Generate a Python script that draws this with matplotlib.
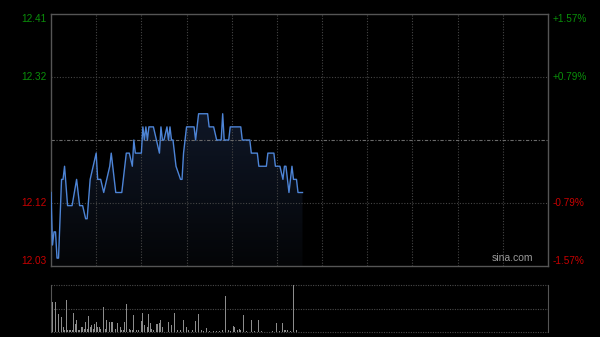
import numpy as np
import matplotlib
matplotlib.use('Agg')
import matplotlib.pyplot as plt
from matplotlib.colors import LinearSegmentedColormap

# price line, vertices (minute from open, price)
minutes = [0, 1, 2, 3, 4, 5, 7, 8, 9, 11, 14, 17, 19, 21, 23, 24, 26, 28, 30, 31,
           33, 35, 37, 39, 40, 43, 47, 50, 52, 54, 55, 56, 60, 61, 62, 63, 64, 65,
           68, 72, 73, 74, 75, 77, 78, 79, 80, 81, 83, 86, 87, 88, 90, 95, 96, 98,
           104, 105, 108, 110, 113, 114, 115, 118, 119, 126, 127, 132, 133, 137,
           138, 143, 144, 148, 149, 152, 154, 155, 156, 158, 160, 161, 163, 164, 167]
prices = [12.14, 12.06, 12.08, 12.08, 12.04, 12.04, 12.16, 12.16, 12.18, 12.12,
          12.12, 12.16, 12.12, 12.12, 12.10, 12.10, 12.16, 12.18, 12.20, 12.16,
          12.16, 12.14, 12.16, 12.18, 12.20, 12.14, 12.14, 12.20, 12.20, 12.18,
          12.22, 12.20, 12.20, 12.24, 12.22, 12.24, 12.22, 12.24, 12.24, 12.20,
          12.24, 12.22, 12.22, 12.24, 12.22, 12.24, 12.22, 12.22, 12.18, 12.16,
          12.16, 12.20, 12.24, 12.24, 12.22, 12.26, 12.26, 12.24, 12.24, 12.22,
          12.22, 12.26, 12.22, 12.22, 12.24, 12.24, 12.22, 12.22, 12.20, 12.20,
          12.18, 12.18, 12.20, 12.20, 12.18, 12.18, 12.16, 12.18, 12.18, 12.14,
          12.18, 12.16, 12.16, 12.14, 12.14]

# volume bars (minute, % of panel height)
vol_min = [0, 1, 2, 3, 4, 5, 6, 7, 8, 9, 10, 11, 12, 13, 14, 15, 16, 17, 18, 19,
           20, 21, 22, 23, 24, 25, 26, 27, 28, 29, 30, 31, 32, 33, 35, 36, 37, 39,
           40, 41, 43, 44, 46, 47, 48, 49, 50, 52, 53, 54, 55, 57, 58, 60, 61, 62,
           64, 65, 66, 67, 68, 70, 71, 72, 73, 74, 75, 77, 78, 79, 80, 81, 82, 83,
           84, 86, 87, 88, 89, 90, 91, 94, 96, 98, 100, 101, 103, 105, 108, 110,
           112, 114, 116, 118, 119, 121, 122, 124, 125, 126, 128, 130, 133, 135,
           138, 140, 143, 145, 147, 150, 152, 154, 155, 156, 157, 158, 159, 161,
           162, 163, 164]
vol_val = [89, 64, 61, 64, 57, 39, 32, 32, 11, 4, 69, 4, 4, 4, 4, 41, 18, 25, 4, 5,
           11, 11, 7, 21, 7, 34, 11, 14, 7, 18, 21, 11, 11, 7, 54, 7, 26, 21,
           21, 21, 7, 19, 11, 4, 4, 21, 59, 7, 4, 4, 36, 4, 4, 23, 41, 14,
           11, 39, 19, 7, 4, 18, 18, 19, 26, 11, 5, 4, 21, 82, 14, 7, 41, 7,
           4, 4, 14, 25, 19, 11, 4, 4, 24, 39, 4, 2, 9, 2, 2, 2,
           2, 4, 76, 4, 2, 12, 11, 4, 7, 4, 36, 2, 25, 2,
           25, 2, 1, 1, 2, 19, 2, 19, 4, 5, 4, 7, 2, 100,
           4, 4, 25]

prev_close = 12.22
half_range = 0.192
left_labels = ['12.41', '12.32', '12.12', '12.03']
right_labels = ['+1.57%', '+0.79%', '-0.79%', '-1.57%']
total_minutes = 330

green = '#0a8f0a'
red = '#c80000'
border = '#555555'
gridc = '#454545'

fig = plt.figure(figsize=(6, 3.37), dpi=100, facecolor='black')
ax = fig.add_axes([51/600, 1-266/337, 497/600, 252/337], facecolor='black')
axv = fig.add_axes([51/600, 1-332/337, 497/600, 47/337], facecolor='black')

ylo = prev_close - half_range
yhi = prev_close + half_range
levels = [yhi, prev_close + half_range/2, prev_close - half_range/2, ylo]

# gradient fill under the line
poly = ax.fill_between(minutes, prices, ylo, color='none', lw=0)
grad = np.linspace(0, 1, 256).reshape(-1, 1)
cmap = LinearSegmentedColormap.from_list('f', ['#040507', '#0f1727'])
im = ax.imshow(grad, extent=[0, total_minutes, ylo, max(prices)], aspect='auto',
               cmap=cmap, origin='lower', zorder=1)
im.set_clip_path(poly.get_paths()[0], transform=ax.transData)

ax.plot(minutes, prices, color='#4d84d6', lw=1.0, zorder=3)

# grid
for k in range(1, 11):
    ax.axvline(k*30, color=gridc, lw=0.8, ls=(0, (1, 1.5)), zorder=2)
for lv in levels[1:3]:
    ax.axhline(lv, color=gridc, lw=0.8, ls=(0, (1, 1.5)), zorder=2)
ax.axhline(prev_close, color='#6a6a6a', lw=0.8, ls=(0, (3, 1.5, 1, 1.5)), zorder=2)

ax.set_xlim(0, total_minutes)
ax.set_ylim(ylo, yhi)
ax.set_xticks([])
ax.set_yticks([])
for s in ax.spines.values():
    s.set_color(border)
    s.set_linewidth(1.0)

# axis labels
font = dict(family='Liberation Sans', fontsize=7.2)
vas = ['top', 'center', 'center', 'bottom']
for lv, lt, rt, va in zip(levels, left_labels, right_labels, vas):
    c = green if lv > prev_close else red
    ax.text(-4/497*total_minutes, lv, lt, color=c, ha='right', va=va, **font)
    ax.text(total_minutes + 5/497*total_minutes, lv, rt, color=c, ha='left', va=va, **font)

ax.text(0.97, 0.012, 'sina.com', transform=ax.transAxes, color='#9a9a9a',
        ha='right', va='bottom', family='Liberation Sans', fontsize=7.5)

# volume
axv.bar(vol_min, vol_val, width=0.6, color='#8c8c8c', zorder=3)
axv.set_xlim(0, total_minutes)
axv.set_ylim(0, 100)
axv.set_xticks([])
axv.set_yticks([])
for y in [0, 50, 100]:
    axv.axhline(y, color='#4a4a4a', lw=0.8, ls=(0, (1, 1.2)), zorder=2, clip_on=False)
axv.spines['top'].set_visible(False)
axv.spines['bottom'].set_visible(False)
axv.spines['left'].set_color(border)
axv.spines['right'].set_color(border)

fig.savefig('out.png', dpi=100, facecolor='black')
